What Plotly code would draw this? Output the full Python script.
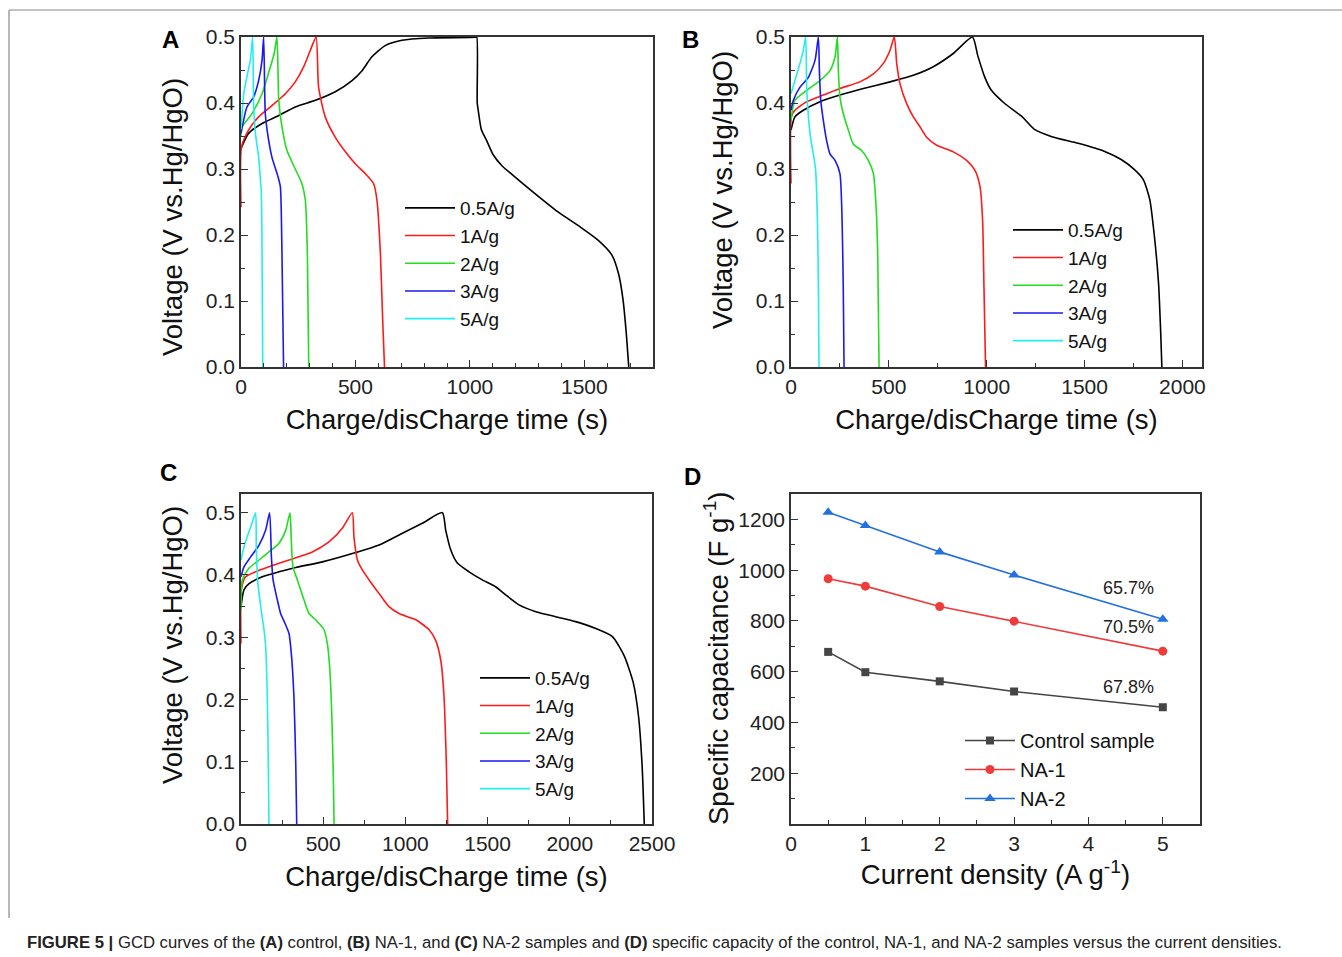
import plotly.graph_objects as go

W, H = 1342, 957
FONT = "Arial, Liberation Sans, sans-serif"

# ---------- Panel A (control) ----------
a05_t = [0, 33, 92, 165, 237, 325, 412, 485, 529, 572, 630, 703, 820, 1024, 1030, 1032, 1036, 1050, 1072, 1101, 1140, 1190, 1287, 1385, 1483, 1561, 1620, 1649, 1669, 1683, 1694]
a05_v = [0.331, 0.354, 0.369, 0.381, 0.394, 0.404, 0.417, 0.434, 0.449, 0.470, 0.487, 0.495, 0.4985, 0.4995, 0.5, 0.40, 0.39, 0.36, 0.344, 0.322, 0.305, 0.290, 0.262, 0.235, 0.212, 0.192, 0.170, 0.142, 0.102, 0.052, 0.0]
a1_t = [0, 2, 33, 77, 135, 194, 237, 274, 303, 328, 339, 368, 412, 463, 499, 543, 579, 594, 609, 619, 627]
a1_v = [0.242, 0.333, 0.359, 0.379, 0.396, 0.414, 0.432, 0.455, 0.48, 0.5, 0.424, 0.379, 0.348, 0.323, 0.308, 0.293, 0.278, 0.253, 0.172, 0.071, 0.0]
a2_t = [0, 5, 48, 92, 120, 145, 157, 165, 179, 201, 237, 266, 281, 290, 296]
a2_v = [0.35, 0.364, 0.384, 0.414, 0.445, 0.475, 0.5, 0.404, 0.364, 0.328, 0.30, 0.278, 0.253, 0.172, 0.0]
a3_t = [0, 26, 55, 77, 92, 99, 106, 114, 135, 162, 172, 179, 186]
a3_v = [0.354, 0.394, 0.409, 0.434, 0.465, 0.5, 0.384, 0.359, 0.318, 0.288, 0.273, 0.172, 0.0]
a5_t = [0, 12, 26, 41, 51, 55, 63, 77, 84, 89, 92, 95]
a5_v = [0.36, 0.414, 0.44, 0.465, 0.5, 0.399, 0.354, 0.318, 0.288, 0.263, 0.172, 0.0]

# ---------- Panel B (NA-1) ----------
b05_t = [0, 20, 63, 148, 250, 370, 506, 625, 727, 829, 927, 955, 989, 1022, 1089, 1178, 1244, 1333, 1467, 1600, 1689, 1755, 1800, 1833, 1855, 1878, 1889, 1895]
b05_v = [0.359, 0.379, 0.389, 0.402, 0.412, 0.422, 0.432, 0.442, 0.455, 0.475, 0.5, 0.471, 0.44, 0.42, 0.40, 0.38, 0.36, 0.349, 0.339, 0.327, 0.314, 0.299, 0.284, 0.254, 0.203, 0.127, 0.052, 0.0]
b1_t = [0, 2, 20, 80, 165, 250, 352, 421, 472, 506, 528, 540, 557, 591, 625, 659, 693, 744, 829, 897, 940, 966, 979, 986, 994]
b1_v = [0.278, 0.379, 0.389, 0.402, 0.412, 0.422, 0.432, 0.444, 0.46, 0.48, 0.5, 0.46, 0.429, 0.399, 0.379, 0.364, 0.348, 0.336, 0.326, 0.313, 0.298, 0.273, 0.222, 0.121, 0.0]
b2_t = [0, 20, 80, 148, 199, 225, 237, 242, 250, 267, 293, 318, 361, 395, 421, 434, 443, 450]
b2_v = [0.374, 0.404, 0.419, 0.434, 0.449, 0.47, 0.5, 0.449, 0.409, 0.384, 0.359, 0.338, 0.328, 0.313, 0.293, 0.247, 0.172, 0.0]
b3_t = [0, 12, 46, 89, 123, 140, 145, 152, 165, 182, 199, 225, 250, 261, 267, 271]
b3_v = [0.389, 0.404, 0.424, 0.439, 0.465, 0.5, 0.449, 0.404, 0.374, 0.343, 0.323, 0.313, 0.293, 0.222, 0.121, 0.0]
b5_t = [0, 20, 46, 63, 75, 80, 89, 102, 114, 126, 135, 140, 143]
b5_v = [0.414, 0.434, 0.46, 0.48, 0.5, 0.424, 0.379, 0.343, 0.323, 0.298, 0.222, 0.121, 0.0]

# ---------- Panel C (NA-2) ----------
c05_t = [0, 18, 49, 130, 231, 333, 495, 698, 840, 982, 1103, 1225, 1245, 1276, 1316, 1387, 1468, 1549, 1610, 1691, 1793, 1914, 2036, 2158, 2259, 2331, 2386, 2418, 2440, 2453]
c05_v = [0.349, 0.376, 0.386, 0.397, 0.405, 0.412, 0.421, 0.436, 0.448, 0.467, 0.483, 0.5, 0.472, 0.44, 0.419, 0.405, 0.392, 0.381, 0.368, 0.352, 0.341, 0.333, 0.325, 0.314, 0.301, 0.27, 0.227, 0.173, 0.093, 0.0]
c1_t = [0, 2, 28, 89, 170, 292, 434, 535, 616, 677, 687, 708, 738, 779, 840, 900, 961, 1063, 1144, 1184, 1215, 1235, 1249, 1257]
c1_v = [0.29, 0.376, 0.397, 0.405, 0.413, 0.424, 0.437, 0.453, 0.475, 0.5, 0.461, 0.424, 0.408, 0.392, 0.37, 0.349, 0.338, 0.328, 0.312, 0.295, 0.263, 0.204, 0.097, 0.0]
c2_t = [0, 8, 49, 110, 170, 231, 272, 298, 306, 316, 343, 383, 414, 454, 505, 525, 539, 552, 562, 566]
c2_v = [0.344, 0.392, 0.411, 0.424, 0.437, 0.451, 0.472, 0.5, 0.456, 0.413, 0.392, 0.36, 0.338, 0.328, 0.312, 0.29, 0.253, 0.178, 0.071, 0.0]
c3_t = [0, 18, 59, 110, 150, 174, 185, 195, 221, 241, 268, 292, 306, 322, 333, 339]
c3_v = [0.397, 0.413, 0.429, 0.448, 0.472, 0.5, 0.429, 0.392, 0.36, 0.338, 0.322, 0.306, 0.274, 0.204, 0.097, 0.0]
c5_t = [0, 18, 45, 69, 89, 93, 101, 120, 140, 150, 160, 166, 170]
c5_v = [0.424, 0.445, 0.467, 0.485, 0.5, 0.445, 0.392, 0.349, 0.312, 0.285, 0.204, 0.097, 0.0]

rate_names = ["0.5A/g", "1A/g", "2A/g", "3A/g", "5A/g"]
rate_colors = ["#000000", "#ff1a1a", "#22dd22", "#1a1aee", "#22eeee"]

# ---------- Panel D ----------
current_density = [0.5, 1, 2, 3, 5]
cap_control = [678, 598, 562, 522, 460]
cap_na1 = [966, 937, 857, 799, 681]
cap_na2 = [1228, 1176, 1072, 981, 807]
retention_labels = ["65.7%", "70.5%", "67.8%"]
retention_pos = [(4.54, 928), (4.54, 775), (4.54, 539)]

fig = go.Figure()

panels = [
    ("x", "y", "legend", [(a05_t, a05_v), (a1_t, a1_v), (a2_t, a2_v), (a3_t, a3_v), (a5_t, a5_v)]),
    ("x2", "y2", "legend2", [(b05_t, b05_v), (b1_t, b1_v), (b2_t, b2_v), (b3_t, b3_v), (b5_t, b5_v)]),
    ("x3", "y3", "legend3", [(c05_t, c05_v), (c1_t, c1_v), (c2_t, c2_v), (c3_t, c3_v), (c5_t, c5_v)]),
]
for xa, ya, lg, curves in panels:
    for (t, v), name, col in zip(curves, rate_names, rate_colors):
        fig.add_trace(go.Scatter(x=t, y=v, mode="lines", name=name, xaxis=xa, yaxis=ya,
                                 legend=lg, line=dict(color=col, width=1.6, shape="spline", smoothing=0.6)))

fig.add_trace(go.Scatter(x=current_density, y=cap_control, mode="lines+markers", name="Control sample",
                         xaxis="x4", yaxis="y4", legend="legend4",
                         line=dict(color="#454545", width=1.6),
                         marker=dict(symbol="square", size=8, color="#454545")))
fig.add_trace(go.Scatter(x=current_density, y=cap_na1, mode="lines+markers", name="NA-1",
                         xaxis="x4", yaxis="y4", legend="legend4",
                         line=dict(color="#ee3b3b", width=1.6),
                         marker=dict(symbol="circle", size=9, color="#ee3b3b")))
fig.add_trace(go.Scatter(x=current_density, y=cap_na2, mode="lines+markers", name="NA-2",
                         xaxis="x4", yaxis="y4", legend="legend4",
                         line=dict(color="#2370e0", width=1.6),
                         marker=dict(symbol="triangle-up", size=10, color="#2370e0")))


def px_x(p):
    return p / W


def px_y(p):
    return 1 - p / H


def axis(domain, rng, tickvals, minor_vals, title, anchor, standoff, fmt=None, tfs=27.5):
    d = dict(domain=domain, range=rng, anchor=anchor, tickmode="array", tickvals=tickvals,
             automargin=True,
             ticks="inside", ticklen=7, tickwidth=1.3, tickcolor="#333",
             showline=True, linecolor="#333", linewidth=1.6, mirror=True,
             showgrid=False, zeroline=False,
             tickfont=dict(size=21, color="#222", family=FONT),
             minor=dict(tickmode="array", tickvals=minor_vals, ticks="inside", ticklen=4,
                        tickwidth=1.2, tickcolor="#333", showgrid=False))
    if title:
        d["title"] = dict(text=title, font=dict(size=tfs, color="#111", family=FONT), standoff=standoff)
    if fmt:
        d["tickformat"] = fmt
    return d


xt = "Charge/disCharge time (s)"
yt = "Voltage (V vs.Hg/HgO)"
dA_x = [px_x(241), px_x(653)]
dB_x = [px_x(791), px_x(1202)]
dC_x = [px_x(241), px_x(652)]
dD_x = [px_x(791), px_x(1200)]
dTop_y = [px_y(367), px_y(37)]
dBot_y = [px_y(824), px_y(494)]

volt_ticks = [0, 0.1, 0.2, 0.3, 0.4, 0.5]
volt_minor = [0.05, 0.15, 0.25, 0.35, 0.45]

fig.update_layout(
    width=W, height=H, margin=dict(l=0, r=0, t=0, b=0, pad=0, autoexpand=False),
    paper_bgcolor="white", plot_bgcolor="white",
    font=dict(family=FONT, color="#111"),
    xaxis=axis(dA_x, [0, 1800], [0, 500, 1000, 1500], [i * 100 for i in range(19)], xt, "y", 13),
    yaxis=axis(dTop_y, [0, 0.5], volt_ticks, volt_minor, None, "x", 0, ".1f"),
    xaxis2=axis(dB_x, [0, 2100], [0, 500, 1000, 1500, 2000], [250, 750, 1250, 1750], xt, "y2", 13),
    yaxis2=axis(dTop_y, [0, 0.5], volt_ticks, volt_minor, None, "x2", 0, ".1f"),
    xaxis3=axis(dC_x, [0, 2500], [0, 500, 1000, 1500, 2000, 2500], [250, 750, 1250, 1750, 2250], xt, "y3", 13),
    yaxis3=axis(dBot_y, [0, 0.53], volt_ticks, volt_minor, None, "x3", 0, ".1f"),
    xaxis4=axis(dD_x, [0, 5.5], [0, 1, 2, 3, 4, 5], [0.5, 1.5, 2.5, 3.5, 4.5, 5.5],
                "Current density (A g<sup>-1</sup>)", "y4", 11),
    yaxis4=axis(dBot_y, [0, 1300], [200, 400, 600, 800, 1000, 1200], [100, 300, 500, 700, 900, 1100, 1300],
                None, "x4", 0),
    showlegend=True,
)

leg_common = dict(bgcolor="rgba(0,0,0,0)", borderwidth=0,
                  xanchor="left", yanchor="top", tracegroupgap=0, itemwidth=50,
                  xref="container", yref="container")
leg_font = dict(size=19, family=FONT, color="#111")
fig.update_layout(
    legend=dict(x=px_x(400), y=px_y(189), font=leg_font, **leg_common),
    legend2=dict(x=px_x(1008), y=px_y(211), font=leg_font, **leg_common),
    legend3=dict(x=px_x(475), y=px_y(659), font=leg_font, **leg_common),
    legend4=dict(x=px_x(960), y=px_y(721), font=dict(size=20, family=FONT, color="#111"), **leg_common),
)

annotations = []
for lab, (px, py) in zip(["A", "B", "C", "D"], [(170, 40), (690, 40), (168, 473), (692, 476)]):
    annotations.append(dict(text="<b>%s</b>" % lab, x=px_x(px), y=px_y(py), xref="paper", yref="paper",
                            showarrow=False, font=dict(size=24, family=FONT, color="#000"),
                            xanchor="center", yanchor="middle"))
# rotated y-axis titles
ytitles = [(yt, 172, 217), (yt, 722, 190), (yt, 172, 645), ("Specific capacitance (F g<sup>-1</sup>)", 716, 658)]
for txt, px, py in ytitles:
    annotations.append(dict(text=txt, x=px_x(px), y=px_y(py), xref="paper", yref="paper",
                            showarrow=False, textangle=-90,
                            font=dict(size=27.5, family=FONT, color="#111"),
                            xanchor="center", yanchor="middle"))
for lab, (xx, yy) in zip(retention_labels, retention_pos):
    annotations.append(dict(text=lab, x=xx, y=yy, xref="x4", yref="y4", showarrow=False,
                            font=dict(size=18, family=FONT, color="#222"), xanchor="center", yanchor="middle"))
annotations.append(dict(
    text="<b>FIGURE 5 |</b> GCD curves of the <b>(A)</b> control, <b>(B)</b> NA-1, and <b>(C)</b> NA-2 samples and "
         "<b>(D)</b> specific capacity of the control, NA-1, and NA-2 samples versus the current densities.",
    x=px_x(25), y=px_y(942), xref="paper", yref="paper", showarrow=False,
    font=dict(size=16.7, family=FONT, color="#222"), xanchor="left", yanchor="middle"))
fig.update_layout(annotations=annotations)

fig.update_layout(shapes=[
    dict(type="line", xref="paper", yref="paper", x0=px_x(9), x1=1, y0=px_y(10), y1=px_y(10),
         line=dict(color="#888", width=1.2)),
    dict(type="line", xref="paper", yref="paper", x0=px_x(9), x1=px_x(9), y0=px_y(10), y1=px_y(918),
         line=dict(color="#888", width=1.2)),
])

fig.write_html("out.html", config={"displayModeBar": False},
               post_script="document.body.style.margin='0px';document.body.style.overflow='hidden';")
